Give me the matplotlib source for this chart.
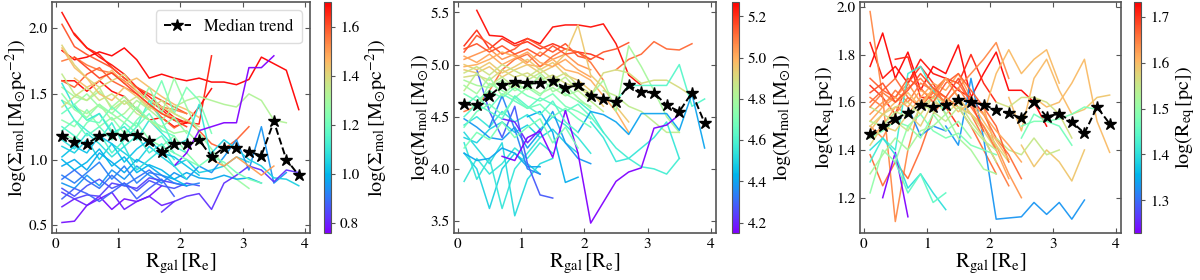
import numpy as np
import matplotlib
matplotlib.use("Agg")
import matplotlib.pyplot as plt
from matplotlib.colors import Normalize
from matplotlib.cm import ScalarMappable

plt.rcParams["font.family"] = "STIXGeneral"
plt.rcParams["mathtext.fontset"] = "stix"

# radial bins (R_gal / R_e)
R_BINS = np.round(np.arange(0.1, 4.0, 0.2), 2)

# ── median trends ───────────────────────────────────────────────────────
sig_median = [1.18, 1.13, 1.12, 1.18, 1.19, 1.18, 1.19, 1.14, 1.06, 1.12,
              1.12, 1.15, 1.02, 1.09, 1.09, 1.06, 1.03, 1.29, 1.00, 0.88]
mass_median = [4.62, 4.61, 4.70, 4.80, 4.83, 4.82, 4.82, 4.84, 4.78, 4.80,
               4.70, 4.67, 4.64, 4.80, 4.74, 4.73, 4.61, 4.55, 4.73, 4.44]
req_median = [1.467, 1.50, 1.53, 1.556, 1.59, 1.58, 1.59, 1.61, 1.60, 1.59,
              1.567, 1.553, 1.534, 1.60, 1.54, 1.552, 1.518, 1.47, 1.58, 1.51]

# ── individual galaxy profiles: first bin index, values, colour value ──
sig_start = [0, 0, 1, 0, 0, 0, 0, 1, 0, 0, 0, 0, 0, 1, 0, 0, 0, 0, 0, 0,
             12, 0, 0, 0, 8, 9, 0, 0, 0, 0, 0, 0, 0, 8, 0, 12,
             0, 0, 0, 0, 1, 0]
sig_cval = [1.68, 1.70, 1.66, 1.69, 1.60, 1.55, 1.58, 1.45, 1.40, 1.30,
            1.32, 1.25, 1.22, 1.28, 1.10, 1.05, 0.98, 1.12, 1.15, 0.95,
            1.05, 0.78, 0.80, 0.84, 0.82, 0.76, 0.86, 0.92, 0.88, 1.35,
            1.20, 1.02, 1.08, 1.22, 1.45, 1.50,
            1.38, 1.18, 1.00, 0.90, 1.62, 1.27]
sig_profiles = [
    [2.12, 1.95, 1.85, 1.78, 1.72, 1.65, 1.55, 1.48, 1.40, 1.32, 1.28],
    [1.83, 1.76, 1.78, 1.82, 1.79, 1.85, 1.76, 1.62, 1.65, 1.62, 1.60, 1.62,
     1.59, 1.59, 1.57, 1.61, 1.78, 1.73, 1.68, 1.38],
    [1.96, 1.85, 1.80, 1.70, 1.62, 1.55, 1.45, 1.38, 1.30, 1.28, 1.27, 1.79],
    [1.60, 1.60, 1.52, 1.60, 1.52, 1.48, 1.38, 1.30, 1.32, 1.25, 1.28, 1.40, 1.54],
    [2.03, 1.86, 1.80, 1.75, 1.70, 1.62, 1.55, 1.50, 1.45, 1.40, 1.35],
    [1.75, 1.78, 1.72, 1.68, 1.66, 1.60, 1.52, 1.45, 1.40, 1.38, 1.35],
    [1.60, 1.55, 1.65, 1.70, 1.60, 1.55, 1.50, 1.42, 1.32, 1.24, 1.30, 1.22,
     1.12, 1.08, 1.15, 1.25],
    [1.62, 1.55, 1.60, 1.68, 1.58, 1.62, 1.55, 1.48, 1.42, 1.38, 1.32],
    [1.87, 1.72, 1.62, 1.55, 1.60, 1.65, 1.52, 1.45, 1.40, 1.35, 1.30, 1.25],
    [1.55, 1.48, 1.45, 1.52, 1.40, 1.48, 1.38, 1.30, 1.25, 1.20, 1.22, 1.12],
    [1.45, 1.40, 1.35, 1.42, 1.30, 1.35, 1.45, 1.38, 1.30, 1.40, 1.45, 1.48,
     1.45, 1.42, 1.40, 1.50, 1.45, 1.30, 1.28],
    [1.30, 1.25, 1.38, 1.25, 1.32, 1.20, 1.28, 1.15, 1.10, 1.18, 1.05, 0.95],
    [1.20, 1.15, 1.28, 1.35, 1.22, 1.18, 1.30, 1.40, 1.60, 1.35, 1.55, 1.45, 1.20],
    [1.42, 1.50, 1.40, 1.35, 1.45, 1.38, 1.55, 1.35, 1.62, 1.40, 1.20, 1.08,
     0.95, 0.85, 0.78],
    [1.58, 1.40, 1.30, 1.35, 1.20, 1.25, 1.15, 1.30, 1.20, 1.10, 1.15, 1.42, 1.00],
    [1.10, 1.05, 1.15, 1.00, 1.12, 1.05, 0.98, 1.10, 1.02, 0.95, 1.00, 0.90,
     0.92, 0.95, 1.02, 0.98],
    [0.95, 1.00, 0.92, 1.05, 0.98, 0.90, 1.00, 0.95, 0.88, 0.85, 0.90, 0.86,
     0.85, 0.88, 0.85, 0.86, 0.82],
    [1.45, 1.30, 1.22, 1.15, 1.28, 1.10, 1.18, 1.05, 1.12, 1.00],
    [1.25, 1.18, 1.10, 1.20, 1.05, 1.15, 1.25, 1.45, 1.30, 1.10, 1.05],
    [0.82, 0.78, 0.88, 0.80, 0.92, 0.85, 0.95, 0.88, 0.82, 0.90, 0.85, 0.95,
     0.90, 1.02, 1.15, 0.92, 1.25, 0.82, 0.90],
    [1.05, 1.15, 1.08, 1.00, 0.95, 0.86, 0.85, 0.80],
    [0.52, 0.53, 0.65, 0.72, 0.62, 0.70, 0.68, 0.72, 0.80],
    [0.64, 0.70, 0.65, 0.70, 0.75, 0.62, 0.68, 0.72, 0.65, 0.68],
    [0.75, 0.70, 0.73, 0.72, 0.82, 0.80, 0.78, 0.86, 0.84, 0.82, 0.80],
    [0.60, 0.68, 0.72, 0.74, 0.62, 0.82, 0.88, 0.95, 0.92, 0.83, 0.92, 0.90],
    [0.95, 1.05, 1.22, 1.25, 1.28, 1.28, 1.70, 1.70, 1.79],
    [0.78, 0.72, 0.80, 0.85, 0.78, 0.82, 0.76, 0.84, 0.80, 0.78, 0.82, 0.80],
    [0.88, 0.82, 0.90, 0.98, 0.85, 0.95, 0.82, 0.90, 0.88, 0.82, 0.80, 0.82],
    [0.70, 0.78, 0.74, 0.68, 0.75, 0.82, 0.70, 0.78, 0.85, 0.72],
    [1.65, 1.50, 1.45, 1.55, 1.38, 1.45, 1.35, 1.30, 1.22],
    [1.35, 1.42, 1.30, 1.28, 1.40, 1.32, 1.25, 1.35, 1.22, 1.18],
    [1.02, 1.10, 1.05, 1.18, 1.12, 0.98, 1.08, 1.15, 1.05, 1.02, 0.95, 0.88],
    [1.15, 1.08, 1.20, 1.12, 1.02, 1.10, 0.92, 1.00, 1.08, 0.95, 0.85],
    [1.10, 1.05, 1.00, 0.95, 1.02, 0.98, 0.90, 0.85, 0.82],
    [1.85, 1.70, 1.62, 1.50, 1.45, 1.55, 1.48, 1.40, 1.35, 1.32],
    [1.00, 0.95, 1.02, 0.95, 0.88, 0.95],
    [1.40, 1.48, 1.55, 1.45, 1.50, 1.42, 1.48, 1.38, 1.45, 1.35, 1.30],
    [1.22, 1.30, 1.18, 1.25, 1.15, 1.28, 1.20, 1.12, 1.18, 1.05],
    [1.00, 0.92, 0.98, 1.08, 0.95, 1.02, 0.90, 0.96, 0.92, 0.85, 0.80],
    [0.85, 0.92, 0.84, 0.78, 0.88, 0.80, 0.86, 0.92, 0.84],
    [1.78, 1.70, 1.62, 1.66, 1.58, 1.50, 1.42, 1.35, 1.30, 1.25],
    [1.50, 1.38, 1.32, 1.42, 1.35, 1.28, 1.40, 1.30, 1.25, 1.32, 1.20],
]

mass_start = [1, 0, 0, 12, 0, 0, 0, 0, 0, 10, 11, 0, 0, 0, 0, 0, 0, 0, 0, 0,
              10, 9, 12, 9, 0, 0, 1, 2, 5, 3, 3, 0, 0, 0, 0, 0, 0,
              0, 0, 0, 0]
mass_cval = [5.25, 5.20, 5.15, 5.12, 5.05, 5.00, 5.10, 4.95, 4.90, 4.80,
             4.85, 4.80, 4.70, 4.65, 4.55, 4.50, 4.55, 4.50, 4.55, 4.52,
             4.55, 4.58, 4.62, 4.40, 4.38, 4.40, 4.28, 4.35, 4.42, 4.15,
             4.20, 4.85, 4.75, 4.62, 4.95, 5.15, 4.70,
             4.78, 4.68, 5.02, 4.88]
mass_profiles = [
    [5.52, 5.28, 5.27, 5.20, 5.25, 5.20, 5.36, 5.38, 5.38, 5.36, 5.39, 5.20, 4.90, 4.80],
    [5.18, 5.33, 5.15, 5.25, 5.18, 5.22, 5.15, 5.20, 5.15, 5.12, 5.10, 5.05],
    [5.12, 5.28, 5.20, 5.10, 5.15, 5.25, 5.18, 5.12, 5.20, 5.08, 5.05, 5.12,
     5.15, 5.21],
    [4.95, 5.05, 5.10, 5.22, 5.15, 5.14, 5.20],
    [5.05, 5.10, 5.15, 5.05, 5.10, 5.02, 5.12, 5.05, 5.10, 5.00, 4.95],
    [4.98, 5.00, 5.05, 5.12, 5.08, 5.00, 4.98, 5.05, 4.95, 4.92, 4.85, 4.70,
     4.55, 4.35],
    [4.55, 4.60, 4.75, 4.95, 5.05, 5.10, 4.98, 5.08, 5.15, 5.12, 5.02, 4.85],
    [4.95, 4.92, 4.98, 4.88, 4.95, 5.00, 4.92, 4.98, 5.10, 5.38, 4.90, 4.78,
     4.60, 4.45],
    [4.88, 4.90, 4.85, 4.95, 4.88, 4.92, 4.85, 4.90, 4.82, 4.78, 4.70, 4.92,
     4.95, 4.92, 4.82, 4.85, 4.85, 4.78, 4.70],
    [4.70, 4.85, 4.55, 5.18, 4.98, 4.75, 4.50, 4.35],
    [4.75, 4.70, 4.60, 4.55, 4.45, 4.35, 4.35],
    [4.85, 4.80, 4.78, 4.85, 4.75, 4.80, 4.72, 4.78, 4.70, 4.75],
    [4.72, 4.65, 4.75, 4.68, 4.78, 4.70, 4.65, 4.72, 4.60, 4.55, 4.48],
    [4.60, 4.70, 4.58, 4.72, 4.65, 4.58, 4.68, 4.62, 4.55, 4.62, 4.50, 4.35],
    [4.42, 4.50, 4.40, 4.55, 4.45, 4.52, 4.38, 4.50, 4.42, 4.30, 4.15],
    [4.30, 4.25, 4.38, 4.45, 4.35, 4.42, 4.30, 4.38, 4.25, 4.15],
    [3.88, 4.10, 3.95, 4.05, 4.20, 4.10, 4.25, 4.15],
    [4.15, 4.00, 3.62, 4.00, 4.15, 4.05, 3.95],
    [4.25, 3.90, 4.10, 3.62, 4.00, 4.15, 4.30],
    [4.35, 4.20, 4.05, 4.25, 3.55, 3.90, 4.05, 4.10],
    [4.45, 4.30, 4.07, 4.10, 4.20, 4.30, 4.45, 4.10],
    [4.65, 4.55, 4.35, 4.20, 4.10, 4.02, 4.00, 3.95, 4.10],
    [4.65, 4.80, 4.80, 4.80, 4.80, 5.00, 4.60, 4.67],
    [4.35, 4.55, 4.52, 4.45, 4.33, 4.53, 4.53, 4.53, 4.37, 4.72, 4.20],
    [4.48, 4.40, 4.30, 4.28, 4.40, 4.20, 4.35, 4.55, 4.25, 4.10, 4.05],
    [4.15, 4.08, 4.10, 4.20, 4.15, 4.02, 4.02],
    [4.95, 4.55, 4.30, 4.60, 4.05, 3.75, 3.72],
    [4.40, 4.70, 4.38, 4.00, 3.95],
    [4.50, 4.55, 4.35, 3.87, 3.92],
    [4.12, 4.08, 4.30, 4.36, 4.11, 4.56, 4.15, 3.48, 3.68, 3.88, 3.97, 4.01,
     4.39, 4.42, 4.52],
    [4.48, 4.45, 4.25, 4.38],
    [4.75, 4.92, 4.80, 4.88, 4.78, 4.85, 4.92, 4.80, 4.88, 4.75, 4.65, 4.55],
    [4.65, 4.58, 4.82, 4.75, 4.68, 4.78, 4.70, 4.85, 4.72, 4.65, 4.60],
    [4.50, 4.62, 4.55, 4.48, 4.70, 4.60, 4.52, 4.65, 4.45, 4.35],
    [5.00, 4.95, 5.02, 4.92, 4.98, 5.05, 4.95, 5.02, 4.90, 4.85, 4.75, 4.60],
    [5.15, 5.20, 5.12, 5.18, 5.10, 5.15, 5.08, 5.18, 5.10, 5.12, 5.05],
    [4.20, 4.35, 4.28, 4.45, 4.30, 4.40, 4.48, 4.25, 4.40, 4.20],
    [4.80, 4.72, 4.88, 4.70, 4.82, 4.76, 4.90, 4.74, 4.80, 4.68, 4.58],
    [4.40, 4.55, 4.62, 4.52, 4.68, 4.58, 4.62, 4.50, 4.58, 4.48, 4.40],
    [5.08, 5.02, 5.10, 5.00, 5.06, 5.12, 5.02, 4.98, 5.05, 4.95, 4.88],
    [4.92, 4.98, 4.90, 5.00, 4.94, 4.88, 4.96, 4.86, 4.92, 4.80, 4.72],
]

req_start = [0, 0, 2, 0, 0, 0, 0, 0, 0, 0, 0, 9, 11, 12, 13, 16, 10, 10, 12, 12,
             6, 3, 1, 0, 0, 2, 0, 0, 0, 0, 0, 0, 0, 0,
             0, 0, 0, 0]
req_cval = [1.72, 1.73, 1.71, 1.70, 1.64, 1.65, 1.63, 1.62, 1.66, 1.64,
            1.66, 1.60, 1.60, 1.59, 1.60, 1.59, 1.55, 1.56, 1.48, 1.47,
            1.33, 1.32, 1.23, 1.42, 1.40, 1.45, 1.50, 1.48, 1.55, 1.57,
            1.52, 1.58, 1.67, 1.62,
            1.65, 1.60, 1.68, 1.54]
req_profiles = [
    [1.85, 1.70, 1.75, 1.68, 1.78, 1.72, 1.70, 1.65, 1.62, 1.55],
    [1.75, 1.89, 1.70, 1.81, 1.65, 1.75, 1.72, 1.84, 1.62, 1.72, 1.81, 1.65,
     1.65, 1.60, 1.50],
    [1.78, 1.79, 1.62, 1.62, 1.70, 1.68, 1.80, 1.68, 1.60],
    [1.67, 1.62, 1.55, 1.68, 1.75, 1.68, 1.58, 1.50],
    [1.98, 1.62, 1.10, 1.40, 1.60, 1.65],
    [1.62, 1.58, 1.65, 1.60, 1.68, 1.65, 1.62, 1.58, 1.55, 1.45, 1.35, 1.25],
    [1.55, 1.60, 1.62, 1.68, 1.60, 1.65, 1.70, 1.62, 1.55, 1.50, 1.42, 1.30, 1.20],
    [1.45, 1.50, 1.58, 1.55, 1.62, 1.68, 1.65, 1.72, 1.62, 1.58, 1.40, 1.28],
    [1.38, 1.25, 1.35, 1.28, 1.40, 1.55, 1.62, 1.58, 1.50, 1.40, 1.30],
    [1.50, 1.45, 1.55, 1.62, 1.58, 1.65, 1.60, 1.66, 1.72, 1.78, 1.85, 1.70],
    [1.60, 1.65, 1.70, 1.62, 1.58, 1.64, 1.70, 1.68, 1.60, 1.55, 1.45, 1.38, 1.28],
    [1.55, 1.72, 1.82, 1.72, 1.78, 1.82, 1.68],
    [1.62, 1.48, 1.70, 1.78, 1.65, 1.55],
    [1.42, 1.33, 1.40, 1.35, 1.27, 1.40],
    [1.62, 1.58, 1.60, 1.68, 1.78, 1.52, 1.39],
    [1.55, 1.57, 1.62, 1.63],
    [1.45, 1.40, 1.38, 1.45, 1.38, 1.40],
    [1.60, 1.58, 1.62, 1.62, 1.60, 1.55, 1.45],
    [1.50, 1.52, 1.52, 1.53, 1.55, 1.58, 1.57],
    [1.45, 1.55, 1.52, 1.50, 1.42],
    [1.50, 1.42, 1.70, 1.45, 1.11, 1.115, 1.12, 1.18, 1.13, 1.18, 1.11, 1.19],
    [1.58, 1.46, 1.50, 1.48],
    [1.20, 1.39, 1.12],
    [1.35, 1.45, 1.40, 1.72, 1.75, 1.65, 1.55],
    [1.40, 1.45, 1.38, 1.24, 1.30, 1.22, 1.15],
    [1.35, 1.22, 1.30, 1.18, 1.22],
    [1.22, 1.40, 1.35, 1.50, 1.45, 1.55, 1.48, 1.52, 1.45],
    [1.45, 1.48, 1.52, 1.50, 1.55, 1.48, 1.45, 1.47, 1.42, 1.40, 1.38],
    [1.58, 1.55, 1.52, 1.48, 1.58, 1.62, 1.55, 1.60, 1.52, 1.45, 1.35],
    [1.50, 1.55, 1.58, 1.60, 1.55, 1.62, 1.60, 1.58, 1.55, 1.50, 1.42, 1.35],
    [1.30, 1.38, 1.45, 1.40, 1.48, 1.50, 1.55, 1.45, 1.40, 1.32, 1.30],
    [1.42, 1.50, 1.48, 1.55, 1.50, 1.60, 1.58, 1.62, 1.55, 1.48, 1.40],
    [1.70, 1.65, 1.62, 1.70, 1.66, 1.60, 1.68, 1.72, 1.65, 1.58, 1.50, 1.35],
    [1.52, 1.58, 1.62, 1.58, 1.65, 1.62, 1.70, 1.62, 1.60, 1.55, 1.48, 1.42, 1.35],
    [1.58, 1.64, 1.60, 1.66, 1.70, 1.64, 1.60, 1.66, 1.58, 1.50, 1.40],
    [1.48, 1.55, 1.60, 1.64, 1.58, 1.66, 1.62, 1.56, 1.60, 1.52, 1.44, 1.36],
    [1.64, 1.68, 1.60, 1.65, 1.72, 1.66, 1.62, 1.70, 1.60, 1.48],
    [1.52, 1.50, 1.56, 1.54, 1.60, 1.56, 1.52, 1.58, 1.50, 1.44, 1.40],
]

sig_label = r"$\log(\Sigma_{\rm mol}\,[\rm M_{\odot}pc^{-2}])$"
mass_label = r"$\log(\rm M_{mol}\,[M_{\odot}])$"
req_label = r"$\log(\rm R_{eq}\,[pc])$"
x_label = r"$\rm R_{gal}\,[R_{e}]$"

panels = [
    (sig_profiles, sig_start, sig_cval, sig_median, sig_label,
     (0.44, 2.2), (0.76, 1.70), [0.5, 1.0, 1.5, 2.0], [0.8, 1.0, 1.2, 1.4, 1.6]),
    (mass_profiles, mass_start, mass_cval, mass_median, mass_label,
     (3.385, 5.60), (4.15, 5.27), [3.5, 4.0, 4.5, 5.0, 5.5],
     [4.2, 4.4, 4.6, 4.8, 5.0, 5.2]),
    (req_profiles, req_start, req_cval, req_median, req_label,
     (1.052, 2.02), (1.229, 1.732), [1.2, 1.4, 1.6, 1.8, 2.0],
     [1.3, 1.4, 1.5, 1.6, 1.7]),
]
ax_left = [52, 454, 860]
ax_width = [258, 262, 261]
cb_left = [324, 732, 1134]

fig = plt.figure(figsize=(12, 2.8), dpi=100)
cmap = plt.get_cmap("rainbow")
frame_col = "#555555"

for i, (profs, starts, cvals, med, lab, ylim, clim, yt, ct) in enumerate(panels):
    ax = fig.add_axes([ax_left[i] / 1200, 1 - 233 / 280, ax_width[i] / 1200, 231 / 280])
    norm = Normalize(vmin=clim[0], vmax=clim[1])
    for vals, s, c in zip(profs, starts, cvals):
        ax.plot(R_BINS[s:s + len(vals)], vals, color=cmap(norm(c)), lw=1.1, alpha=0.95)
    ax.plot(R_BINS, med, ls="--", color="k", lw=1.4, marker="*", ms=9,
            label="Median trend", zorder=5)
    ax.set_xlim(-0.06, 4.08)
    ax.set_ylim(*ylim)
    ax.set_xticks([0, 1, 2, 3, 4])
    ax.set_yticks(yt)
    ax.tick_params(direction="in", top=True, right=True, length=3.5,
                   labelsize=11, color=frame_col, pad=3)
    for sp in ax.spines.values():
        sp.set_color(frame_col)
        sp.set_linewidth(1.2)
    ax.set_xlabel(x_label, fontsize=15, labelpad=1)
    ax.set_ylabel(lab, fontsize=14.5, labelpad=0)
    if i == 0:
        ax.legend(loc="upper right", fontsize=12, handlelength=1.6,
                  borderpad=0.5, fancybox=True, framealpha=1, edgecolor="#dddddd")

    cax = fig.add_axes([cb_left[i] / 1200, 1 - 233 / 280, 7 / 1200, 231 / 280])
    cb = fig.colorbar(ScalarMappable(norm=norm, cmap=cmap), cax=cax)
    cb.set_ticks(ct)
    cb.ax.tick_params(labelsize=11, length=3, color=frame_col)
    cb.outline.set_edgecolor(frame_col)
    cb.set_label(lab, fontsize=14.5, labelpad=3)

fig.savefig("out.png", dpi=100)
